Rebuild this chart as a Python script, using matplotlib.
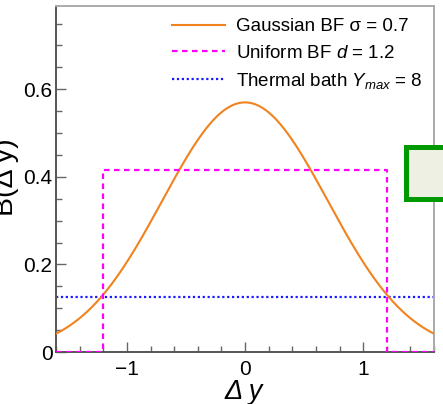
import numpy as np
import matplotlib
matplotlib.use("Agg")
import matplotlib.pyplot as plt
from matplotlib.patches import Rectangle
from matplotlib.ticker import MultipleLocator

plt.rcParams['font.family'] = ['Liberation Sans', 'DejaVu Sans']
plt.rcParams['mathtext.fontset'] = 'custom'
plt.rcParams['mathtext.rm'] = 'Liberation Sans'
plt.rcParams['mathtext.it'] = 'Liberation Sans:italic'

# Balance-function models
sigma = 0.7          # Gaussian width
d_uniform = 1.2      # half-width of uniform BF
y_max = 8            # thermal bath rapidity extent
x_range = (-1.6, 1.6)
y_range = (0.0, 0.79)
x_ticks = [-1, 0, 1]
x_ticklabels = ["\u22121", "0", "1"]
y_ticks = [0, 0.2, 0.4, 0.6]
y_ticklabels = ["0", "0.2", "0.4", "0.6"]
labels = ["Gaussian BF \u03c3 = 0.7",
          "Uniform BF $d$ = 1.2",
          "Thermal bath $Y_{max}$ = 8"]

W, H = 443, 404
fig = plt.figure(figsize=(W / 100, H / 100), dpi=100)
ax = fig.add_axes([56 / W, (H - 352) / H, (434 - 56) / W, (352 - 6) / H])

dy = np.linspace(x_range[0], x_range[1], 600)
gauss = np.exp(-dy**2 / (2 * sigma**2)) / (sigma * np.sqrt(2 * np.pi))
ax.plot(dy, gauss, color='#f0831e', lw=1.5, label=labels[0], zorder=3)

u_level = 1.0 / (2 * d_uniform)
ux = [x_range[0], -d_uniform, -d_uniform, d_uniform, d_uniform, x_range[1]]
uy = [0, 0, u_level, u_level, 0, 0]
ax.plot(ux, uy, color='#ff00ff', lw=1.6, ls=(0, (2.5, 2.0)), label=labels[1], zorder=4)

t_level = 1.0 / y_max
ax.plot(list(x_range), [t_level, t_level], color='#1a1aff', lw=1.6,
        ls=(0, (1.0, 1.2)), label=labels[2], zorder=2)

ax.set_xlim(*x_range)
ax.set_ylim(*y_range)
ax.set_xticks(x_ticks)
ax.set_xticklabels(x_ticklabels)
ax.set_yticks(y_ticks)
ax.set_yticklabels(y_ticklabels)
ax.xaxis.set_minor_locator(MultipleLocator(0.2))
ax.yaxis.set_minor_locator(MultipleLocator(0.05))
ax.tick_params(which='both', direction='in', top=False, right=False,
               color='#666666', width=1.0, labelsize=15)
ax.tick_params(axis='y', which='major', length=7.5, pad=2.5)
ax.tick_params(axis='x', which='major', length=7.5, pad=6)
ax.tick_params(which='minor', length=4)

for side in ('left', 'bottom'):
    ax.spines[side].set_color('#555555')
    ax.spines[side].set_linewidth(1.4)
for side in ('top', 'right'):
    ax.spines[side].set_color('#aaaaaa')
    ax.spines[side].set_linewidth(1.4)

leg = ax.legend(loc='upper left', bbox_to_anchor=(172 / W, 1 - 18 / H),
                bbox_transform=fig.transFigure, frameon=False, fontsize=13.5,
                handlelength=2.8, handletextpad=0.6, labelspacing=0.5,
                borderpad=0, borderaxespad=0)

fig.text(244 / W, 1 - 392 / H, "\u0394 y", fontsize=19.5, style='italic',
         ha='center', va='center')
fig.text(19 / W, 1 - 177 / H, "B(\u0394 y)", fontsize=20.5, rotation=90,
         ha='right', va='center')

# Frame of a neighbouring legend box at the right edge
fig.patches.append(Rectangle((405.5, H - 198.5), 60, 52, transform=None,
                             facecolor='#eef0e3', edgecolor='#009900',
                             linewidth=3.6, zorder=10))

fig.savefig("out.png", dpi=100)
